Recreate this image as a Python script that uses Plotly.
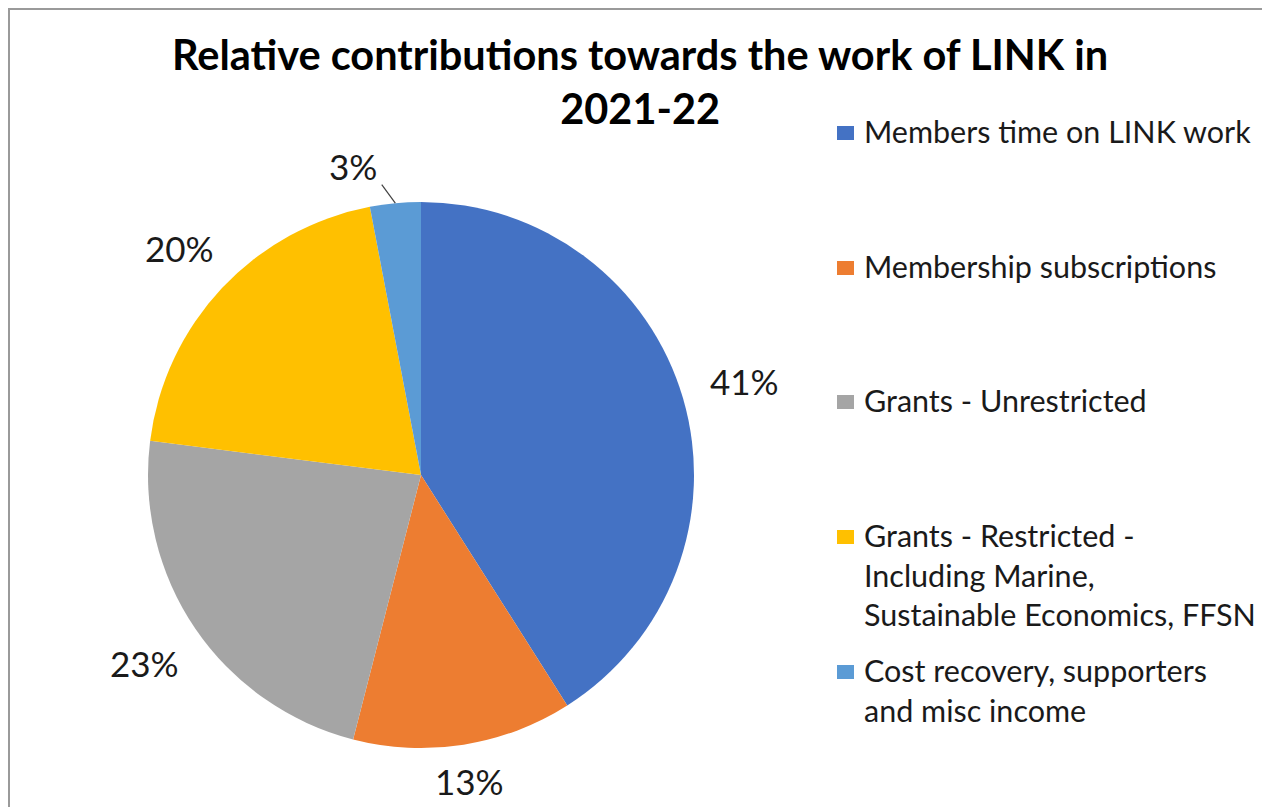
import math
import plotly.graph_objects as go

categories = [
    "Members time on LINK work",
    "Membership subscriptions",
    "Grants - Unrestricted",
    "Grants - Restricted -<br>Including Marine,<br>Sustainable Economics, FFSN",
    "Cost recovery, supporters<br>and misc income",
]
values = [41, 13, 23, 20, 3]
colors = ["#4472C4", "#ED7D31", "#A5A5A5", "#FFC000", "#5B9BD5"]
title_text = "Relative contributions towards the work of LINK in<br>2021-22"

W, H = 1270, 807
FONT = "Lato"
OFF = 8  # page body margin

def px_x(p):
    return (p - OFF) / W

def px_y(p):
    return 1 - (p - OFF) / H

cx, cy, r = 421, 475, 273

fig = go.Figure()
fig.add_trace(go.Pie(
    labels=categories,
    values=values,
    sort=False,
    direction="clockwise",
    rotation=0,
    marker=dict(colors=colors, line=dict(width=0)),
    textinfo="none",
    showlegend=False,
    domain=dict(x=[px_x(cx - r), px_x(cx + r)], y=[px_y(cy + r), px_y(cy - r)]),
    hoverinfo="label+percent",
))

shapes = []
annotations = []

# data labels placed just outside each slice, at its mid angle
LABEL_SIZE = 35
hw, hh, gap = 1.25 * LABEL_SIZE, 0.35 * LABEL_SIZE, 18
total = sum(values)
cum = 0
for v in values:
    mid = (cum + v / 2) / total * 2 * math.pi
    cum += v
    ang = mid
    if v / total < 0.05:
        # small slice: label nudged aside with a leader line
        ang = mid - math.radians(7)
        lx0, ly0 = cx + r * math.sin(mid), cy - r * math.cos(mid)
        a1 = mid - math.radians(2.3)
        lx1, ly1 = cx + (r + 20) * math.sin(a1), cy - (r + 20) * math.cos(a1)
        shapes.append(dict(type="line", xref="paper", yref="paper",
                           x0=px_x(lx0), y0=px_y(ly0), x1=px_x(lx1), y1=px_y(ly1),
                           line=dict(color="#404040", width=1.2)))
    dx, dy = math.sin(ang), -math.cos(ang)
    dist = r + gap + hw * abs(dx) + hh * abs(dy)
    if v / total < 0.05:
        dist += 4
    annotations.append(dict(xref="paper", yref="paper",
                            x=px_x(cx + dist * dx), y=px_y(cy + dist * dy),
                            xanchor="center", yanchor="middle", showarrow=False,
                            text=f"{v}%",
                            font=dict(family=FONT, size=LABEL_SIZE, color="#1a1a1a")))

# legend drawn as annotations + squares
LEG_SIZE = 30.5
first_line_y = [133, 268, 402, 537, 672]
for cat, col, ly in zip(categories, colors, first_line_y):
    shapes.append(dict(type="rect", xref="paper", yref="paper",
                       x0=px_x(837), x1=px_x(854), y0=px_y(ly + 7), y1=px_y(ly - 7),
                       fillcolor=col, line=dict(width=0)))
    annotations.append(dict(xref="paper", yref="paper", x=px_x(862), y=px_y(ly - 22),
                            xanchor="left", yanchor="top", align="left", showarrow=False,
                            text=cat, font=dict(family=FONT, size=LEG_SIZE, color="#1a1a1a")))

# title
annotations.append(dict(xref="paper", yref="paper", x=px_x(640), y=px_y(81),
                        xanchor="center", yanchor="middle", showarrow=False,
                        text="<b>" + title_text + "</b>",
                        font=dict(family=FONT, size=41.5, color="#000000")))

# chart border
shapes.append(dict(type="rect", xref="paper", yref="paper",
                   x0=1 / W, x1=1.05, y0=-0.05, y1=1 - 1 / H,
                   line=dict(color="#9a9a9a", width=2), fillcolor="rgba(0,0,0,0)"))

fig.update_layout(
    width=W, height=H,
    margin=dict(l=0, r=0, t=0, b=0),
    paper_bgcolor="white", plot_bgcolor="white",
    shapes=shapes,
    annotations=annotations,
)

fig.write_html("out.html")
